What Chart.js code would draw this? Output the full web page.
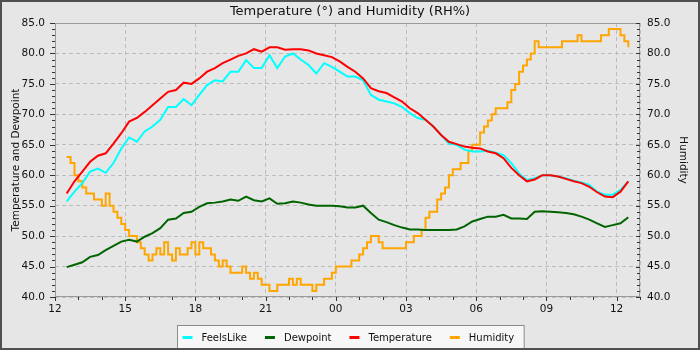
<!DOCTYPE html>
<html>
<head>
<meta charset="utf-8">
<title>Temperature and Humidity</title>
<script src="https://cdn.jsdelivr.net/npm/chart.js@4.4.1/dist/chart.umd.min.js"></script>
<style>
  html, body { margin:0; padding:0; background:#e6e6e6; }
  #wrap { width:696px; height:346px; border:2px solid #505050; background:#e6e6e6; }
  canvas { display:block; }
</style>
</head>
<body>
<div id="wrap"><canvas id="weatherChart" width="696" height="346"></canvas></div>
<script>
// x values are hours after 12:00 on the first day
const sampleStart = 0.5;      // 12:30
const sampleStep  = 1 / 3;    // every 20 minutes
const humStep     = 1 / 6;    // humidity logged every 10 minutes

const feelsLike = [
  55.7, 57.3, 58.7, 60.6, 61.1, 60.4, 62.0, 64.4, 66.2, 65.5, 67.2, 68.0, 69.1, 71.2, 71.2, 72.5, 71.5, 73.2,
  74.8, 75.6, 75.4, 77.0, 77.0, 78.9, 77.6, 77.6, 79.7, 77.6, 79.5, 80.0, 79.0, 78.1, 76.7, 78.4, 77.8, 77.0, 76.2,
  76.2, 75.6, 73.2, 72.4, 72.1, 71.8, 71.2, 70.2, 69.4, 69.1, 68.0, 66.6, 65.2, 65.0, 64.2, 63.9, 63.9, 64.0,
  63.7, 63.3, 62.0, 60.3, 59.2, 59.5, 60.0, 60.0, 59.8, 59.5, 59.1, 58.8, 58.4, 57.3, 56.8, 56.8, 57.6, 59.0
];
const dewpoint = [
  44.9, 45.3, 45.7, 46.6, 46.9, 47.7, 48.4, 49.1, 49.4, 49.1, 49.9, 50.5, 51.3, 52.7, 52.9, 53.8, 54.0, 54.8,
  55.4, 55.5, 55.7, 56.0, 55.8, 56.5, 55.9, 55.7, 56.2, 55.3, 55.4, 55.7, 55.5, 55.2, 55.0, 55.0, 55.0, 54.9, 54.7,
  54.7, 55.0, 53.8, 52.7, 52.3, 51.8, 51.4, 51.1, 51.1, 51.0, 51.0, 51.0, 51.0, 51.1, 51.6, 52.4, 52.8, 53.2,
  53.2, 53.5, 52.9, 52.9, 52.8, 54.0, 54.1, 54.0, 53.9, 53.8, 53.6, 53.2, 52.7, 52.1, 51.5, 51.8, 52.1, 53.1
];
const temperature = [
  57.0, 59.0, 60.6, 62.2, 63.2, 63.6, 65.2, 66.9, 68.8, 69.4, 70.4, 71.5, 72.6, 73.7, 74.0, 75.2, 75.0, 75.9,
  77.0, 77.6, 78.4, 79.0, 79.6, 80.0, 80.7, 80.3, 81.0, 81.0, 80.6, 80.7, 80.7, 80.5, 80.0, 79.7, 79.4, 78.7, 77.8,
  77.0, 75.9, 74.3, 73.8, 73.5, 72.8, 72.1, 71.0, 70.2, 69.1, 68.0, 66.6, 65.5, 65.1, 64.7, 64.5, 64.4, 63.9,
  63.6, 62.8, 61.2, 60.0, 59.0, 59.3, 60.0, 60.0, 59.8, 59.4, 59.0, 58.7, 58.1, 57.2, 56.5, 56.4, 57.3, 59.0
];
const humidity = [
  63, 62, 60, 59, 58, 57,   57, 56, 56, 55, 57, 55,   54, 53, 52, 51, 50, 50,
  49, 48, 47, 46, 47, 48,   47, 49, 47, 46, 48, 47,   47, 48, 49, 47, 49, 48,
  48, 47, 46, 45, 46, 45,   44, 44, 44, 45, 44, 43,   44, 43, 42, 42, 41, 41,
  42, 42, 42, 43, 42, 43,   42, 42, 42, 41, 42, 42,   43, 43, 44, 45, 45, 45,
  45, 46, 46, 47, 48, 49,   50, 50, 49, 48, 48, 48,   48, 48, 48, 49, 49, 50,
  50, 51, 53, 54, 54, 56,   57, 58, 60, 61, 61, 62,   62, 64, 65, 65, 67, 68,
  69, 70, 71, 71, 71, 72,   74, 75, 77, 78, 79, 80,   82, 81, 81, 81, 81, 81,
  81, 82, 82, 82, 82, 83,   82, 82, 82, 82, 82, 83,   83, 84, 84, 84, 83, 82,
  81
];

const FONT = '"DejaVu Sans", sans-serif';
Chart.defaults.font.family = FONT;
Chart.defaults.color = '#111';

const toPoints = (vals, step) => vals.map((v, i) => ({ x: sampleStart + i * step, y: v }));
const hourLabel = v => String((12 + v) % 24).padStart(2, '0');

// plot frame plus the minor/major tick marks on all three axes
const axisMarks = {
  id: 'axisMarks',
  beforeDatasetsDraw(chart) {
    const { ctx, chartArea: a, scales: { x, y } } = chart;
    ctx.save();
    ctx.lineWidth = 1;
    ctx.strokeStyle = '#9a9a9a';
    ctx.strokeRect(a.left + 0.5, a.top + 0.5, a.width - 1, a.height - 1);
    ctx.strokeStyle = '#333';
    ctx.beginPath();
    for (let v = y.min; v <= y.max; v++) {
      const py = Math.round(y.getPixelForValue(v)) + 0.5;
      const major = v % 5 === 0;
      ctx.moveTo(a.left - (major ? 5 : 3), py); ctx.lineTo(a.left, py);
      ctx.moveTo(a.right - (major ? 4 : 3), py); ctx.lineTo(a.right, py);
    }
    for (let h = x.min; h <= x.max; h++) {
      const px = Math.round(x.getPixelForValue(h)) + 0.5;
      ctx.moveTo(px, a.bottom); ctx.lineTo(px, a.bottom + (h % 3 === 0 ? 4 : 3));
    }
    ctx.stroke();
    ctx.restore();
  }
};

// heading and boxed legend along the bottom
const frameText = {
  id: 'frameText',
  afterDraw(chart) {
    const { ctx, width } = chart;
    ctx.save();
    ctx.fillStyle = '#111';
    ctx.font = '13px ' + FONT;
    ctx.textAlign = 'center';
    ctx.textBaseline = 'middle';
    ctx.fillText('Temperature (°) and Humidity (RH%)', width / 2, 10);

    ctx.font = '10px ' + FONT;
    ctx.textAlign = 'left';
    const sets = chart.data.datasets;
    const widths = sets.map(d => ctx.measureText(d.label).width);
    const boxW = 5 + sets.length * 19 + widths.reduce((s, w) => s + w, 0) + (sets.length - 1) * 18 + 10;
    const boxX = Math.round(width / 2 - boxW / 2) + 0.5;
    const boxY = 323.5, cy = 335;
    ctx.fillStyle = '#f7f7f7';
    ctx.fillRect(boxX, boxY, boxW, 30);
    ctx.strokeStyle = '#8c8c8c';
    ctx.strokeRect(boxX, boxY, boxW, 30);
    let cx = boxX + 5;
    sets.forEach((d, i) => {
      ctx.strokeStyle = d.borderColor;
      ctx.lineWidth = 3;
      ctx.beginPath();
      ctx.moveTo(cx, cy + 0.5); ctx.lineTo(cx + 10, cy + 0.5);
      ctx.stroke();
      ctx.fillStyle = '#111';
      ctx.fillText(d.label, cx + 19, cy + 1);
      cx += 19 + widths[i] + 18;
    });
    ctx.restore();
  }
};

const gridLines = { color: '#bcbcbc', lineWidth: 1, drawTicks: false };

new Chart(document.getElementById('weatherChart'), {
  type: 'line',
  data: {
    datasets: [
      { label: 'FeelsLike',   data: toPoints(feelsLike, sampleStep),   borderColor: '#00ffff', order: 1 },
      { label: 'Dewpoint',    data: toPoints(dewpoint, sampleStep),    borderColor: '#006400', order: 2 },
      { label: 'Temperature', data: toPoints(temperature, sampleStep), borderColor: '#ff0000', order: 0 },
      { label: 'Humidity',    data: toPoints(humidity, humStep),       borderColor: '#ffa500', order: 3,
        yAxisID: 'y1', stepped: true }
    ]
  },
  options: {
    responsive: false,
    animation: false,
    layout: { padding: { top: 21, bottom: 27, left: 0, right: 0 } },
    elements: {
      point: { radius: 0 },
      line: { borderWidth: 2, tension: 0, fill: false }
    },
    plugins: { legend: { display: false }, title: { display: false }, tooltip: { enabled: false } },
    scales: {
      x: {
        type: 'linear', min: 0, max: 25,
        grid: gridLines,
        border: { display: false, dash: [4, 3] },
        ticks: { stepSize: 3, padding: 6, autoSkip: false, maxRotation: 0, font: { size: 10.5 },
                 callback: v => (v % 3 ? '' : hourLabel(v)) },
        afterFit: s => { s.height = 24; }
      },
      y: {
        position: 'left', min: 40, max: 85,
        grid: gridLines,
        border: { display: false, dash: [4, 3] },
        ticks: { stepSize: 5, padding: 10, font: { size: 10.5 }, callback: v => v.toFixed(1) },
        title: { display: true, text: 'Temperature and Dewpoint', font: { size: 10.5 }, padding: { top: 8 } },
        afterFit: s => { s.width = 53; }
      },
      y1: {
        position: 'right', min: 40, max: 85,
        grid: { drawOnChartArea: false, drawTicks: false },
        border: { display: false },
        ticks: { stepSize: 5, padding: 7, font: { size: 10.5 }, callback: v => v.toFixed(1) },
        title: { display: true, text: 'Humidity', font: { size: 10.5 }, padding: { top: 9 } },
        afterFit: s => { s.width = 58; }
      }
    }
  },
  plugins: [axisMarks, frameText]
});
</script>
</body>
</html>
